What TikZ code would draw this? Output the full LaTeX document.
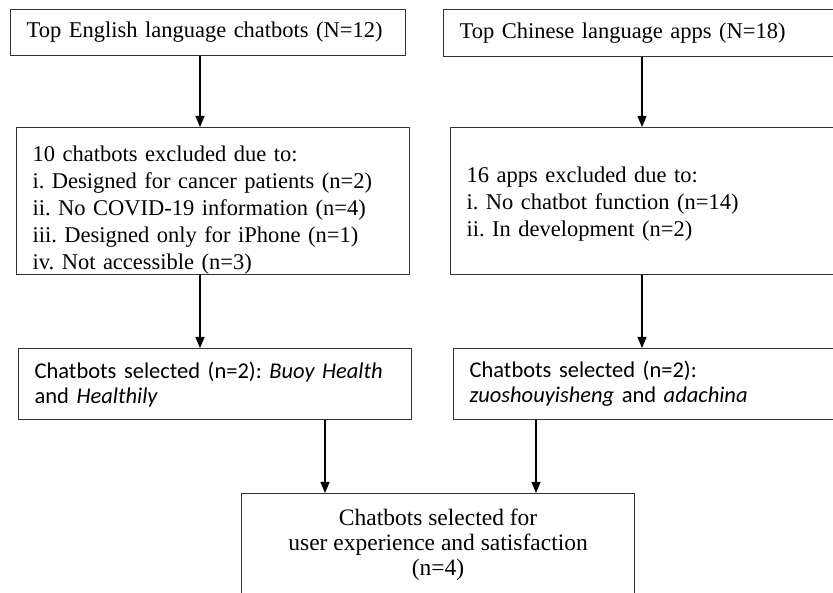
\documentclass[tikz,border=0pt]{standalone}
\usepackage{fontspec}
\setmainfont{Liberation Serif}
\newfontfamily\calfont{Carlito}
\usetikzlibrary{arrows.meta}
\usetikzlibrary{positioning}
\frenchspacing

\begin{document}
\begin{tikzpicture}[x=1pt,y=-1pt]
	\tikzstyle{every node}+=[inner sep=0pt]
	\tikzstyle{box}=[draw=black!80, line width=1.2pt, rectangle, anchor=north west, align=left, inner xsep=16pt, font=\fontsize{22.5}{27}\selectfont]
	\tikzstyle{selbox}=[box, font=\calfont\fontsize{22.5}{25}\selectfont]
	\tikzstyle{arr}=[line width=1.2pt, -{Triangle[width=9pt,length=11pt]}]
	\clip (0,0) rectangle (833,593);
	\fill[white] (0,0) rectangle (833,593);
	\coordinate (lcol) at (200,0);
	\coordinate (rcol) at (642,0);
	% top row
	\node[box, text width=363pt, minimum height=46pt] (eng) at (10,9) {\mbox{Top English language chatbots (N=12)}};
	\node[box, text width=388pt, minimum height=47pt] (chn) at (443,9) {Top Chinese language apps (N=18)};
	% exclusions
	\node[box, text width=361pt, minimum height=147pt] (exeng) at (16,127) {\rule{0pt}{34pt}10 chatbots excluded due to:\\
		i. Designed for cancer patients (n=2)\\
		ii. No COVID-19 information (n=4)\\
		iii. Designed only for iPhone (n=1)\\
		iv. Not accessible (n=3)};
	\node[box, text width=388pt, minimum height=147pt] (exchn) at (450,127) {\rule{0pt}{22pt}16 apps excluded due to:\\
		i. No chatbot function (n=14)\\
		ii. In development (n=2)};
	% selected
	\node[selbox, text width=361pt, minimum height=71pt] (seleng) at (18,348) {Chatbots selected (n=2): \textit{Buoy Health}\\
		and \textit{Healthily}};
	\node[selbox, text width=388pt, minimum height=71pt] (selchn) at (453,348) {Chatbots selected (n=2):\\
		\textit{zuoshouyisheng} and \textit{adachina}};
	% final
	\node[box, minimum width=393pt, minimum height=130pt] (final) at (241,493) {};
	\node[font=\fontsize{23.5}{25}\selectfont, align=center, anchor=north] (finaltxt) at ([yshift=-16pt]final.north) {Chatbots selected for\\
		user experience and satisfaction\\
		(n=4)};
	\draw[arr] (eng.south -| lcol) -- (exeng.north -| lcol);
	\draw[arr] (chn.south -| rcol) -- (exchn.north -| rcol);
	\draw[arr] (exeng.south -| lcol) -- (seleng.north -| lcol);
	\draw[arr] (exchn.south -| rcol) -- (selchn.north -| rcol);
	\draw[arr] (seleng.south -| 325,0) -- (final.north -| 325,0);
	\draw[arr] (selchn.south -| 536,0) -- (final.north -| 536,0);
\end{tikzpicture}
\end{document}
